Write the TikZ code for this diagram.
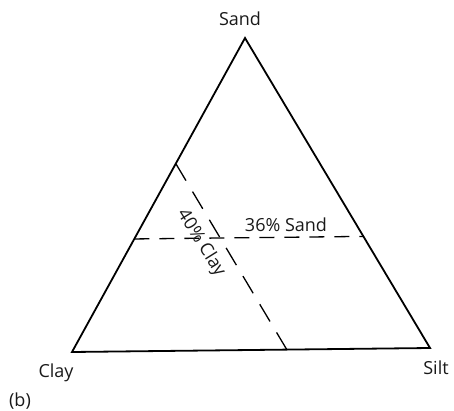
\documentclass[tikz,border=0pt]{standalone}
\usepackage{fontspec}
\setmainfont{Open Sans}
\usetikzlibrary{calc}
\begin{document}
\begin{tikzpicture}[x=1pt,y=-1pt,
  edge/.style={line width=1.8pt,line join=miter},
  guide/.style={line width=1.3pt,dash pattern=on 15pt off 10pt},
  lbl/.style={font=\fontsize{18}{21}\selectfont,inner sep=0pt,text=black!90}]
\useasboundingbox (0,0) rectangle (454,411);
\coordinate (Sa) at (245,38);
\coordinate (Cl) at (72,352);
\coordinate (Si) at (430,348);
\draw[edge] (Cl) -- (Sa) -- (Si) -- cycle;
% 36% sand line
\coordinate (h1) at ($(Cl)!0.36!(Sa)$);
\coordinate (h2) at ($(Si)!0.36!(Sa)$);
\draw[guide] (h1) -- (h2);
% 40% clay line
\coordinate (d1) at ($(Sa)!0.40!(Cl)$);
\coordinate (d2) at ($(Si)!0.40!(Cl)$);
\draw[guide,dash pattern=on 20pt off 12.8pt] (d2) -- (d1);
\node[lbl] (tSa) at (240,19) {Sand};
\node[lbl] (tCl) at (56,373) {Clay};
\node[lbl] (tSi) at (436,368) {Silt};
\node[lbl] (tb) at (20,401) {(b)};
\node[lbl] (t36) at (286,225) {36\% Sand};
\node[lbl,rotate=-58] (t40) at (201,243) {40\% Clay};
\end{tikzpicture}
\end{document}
